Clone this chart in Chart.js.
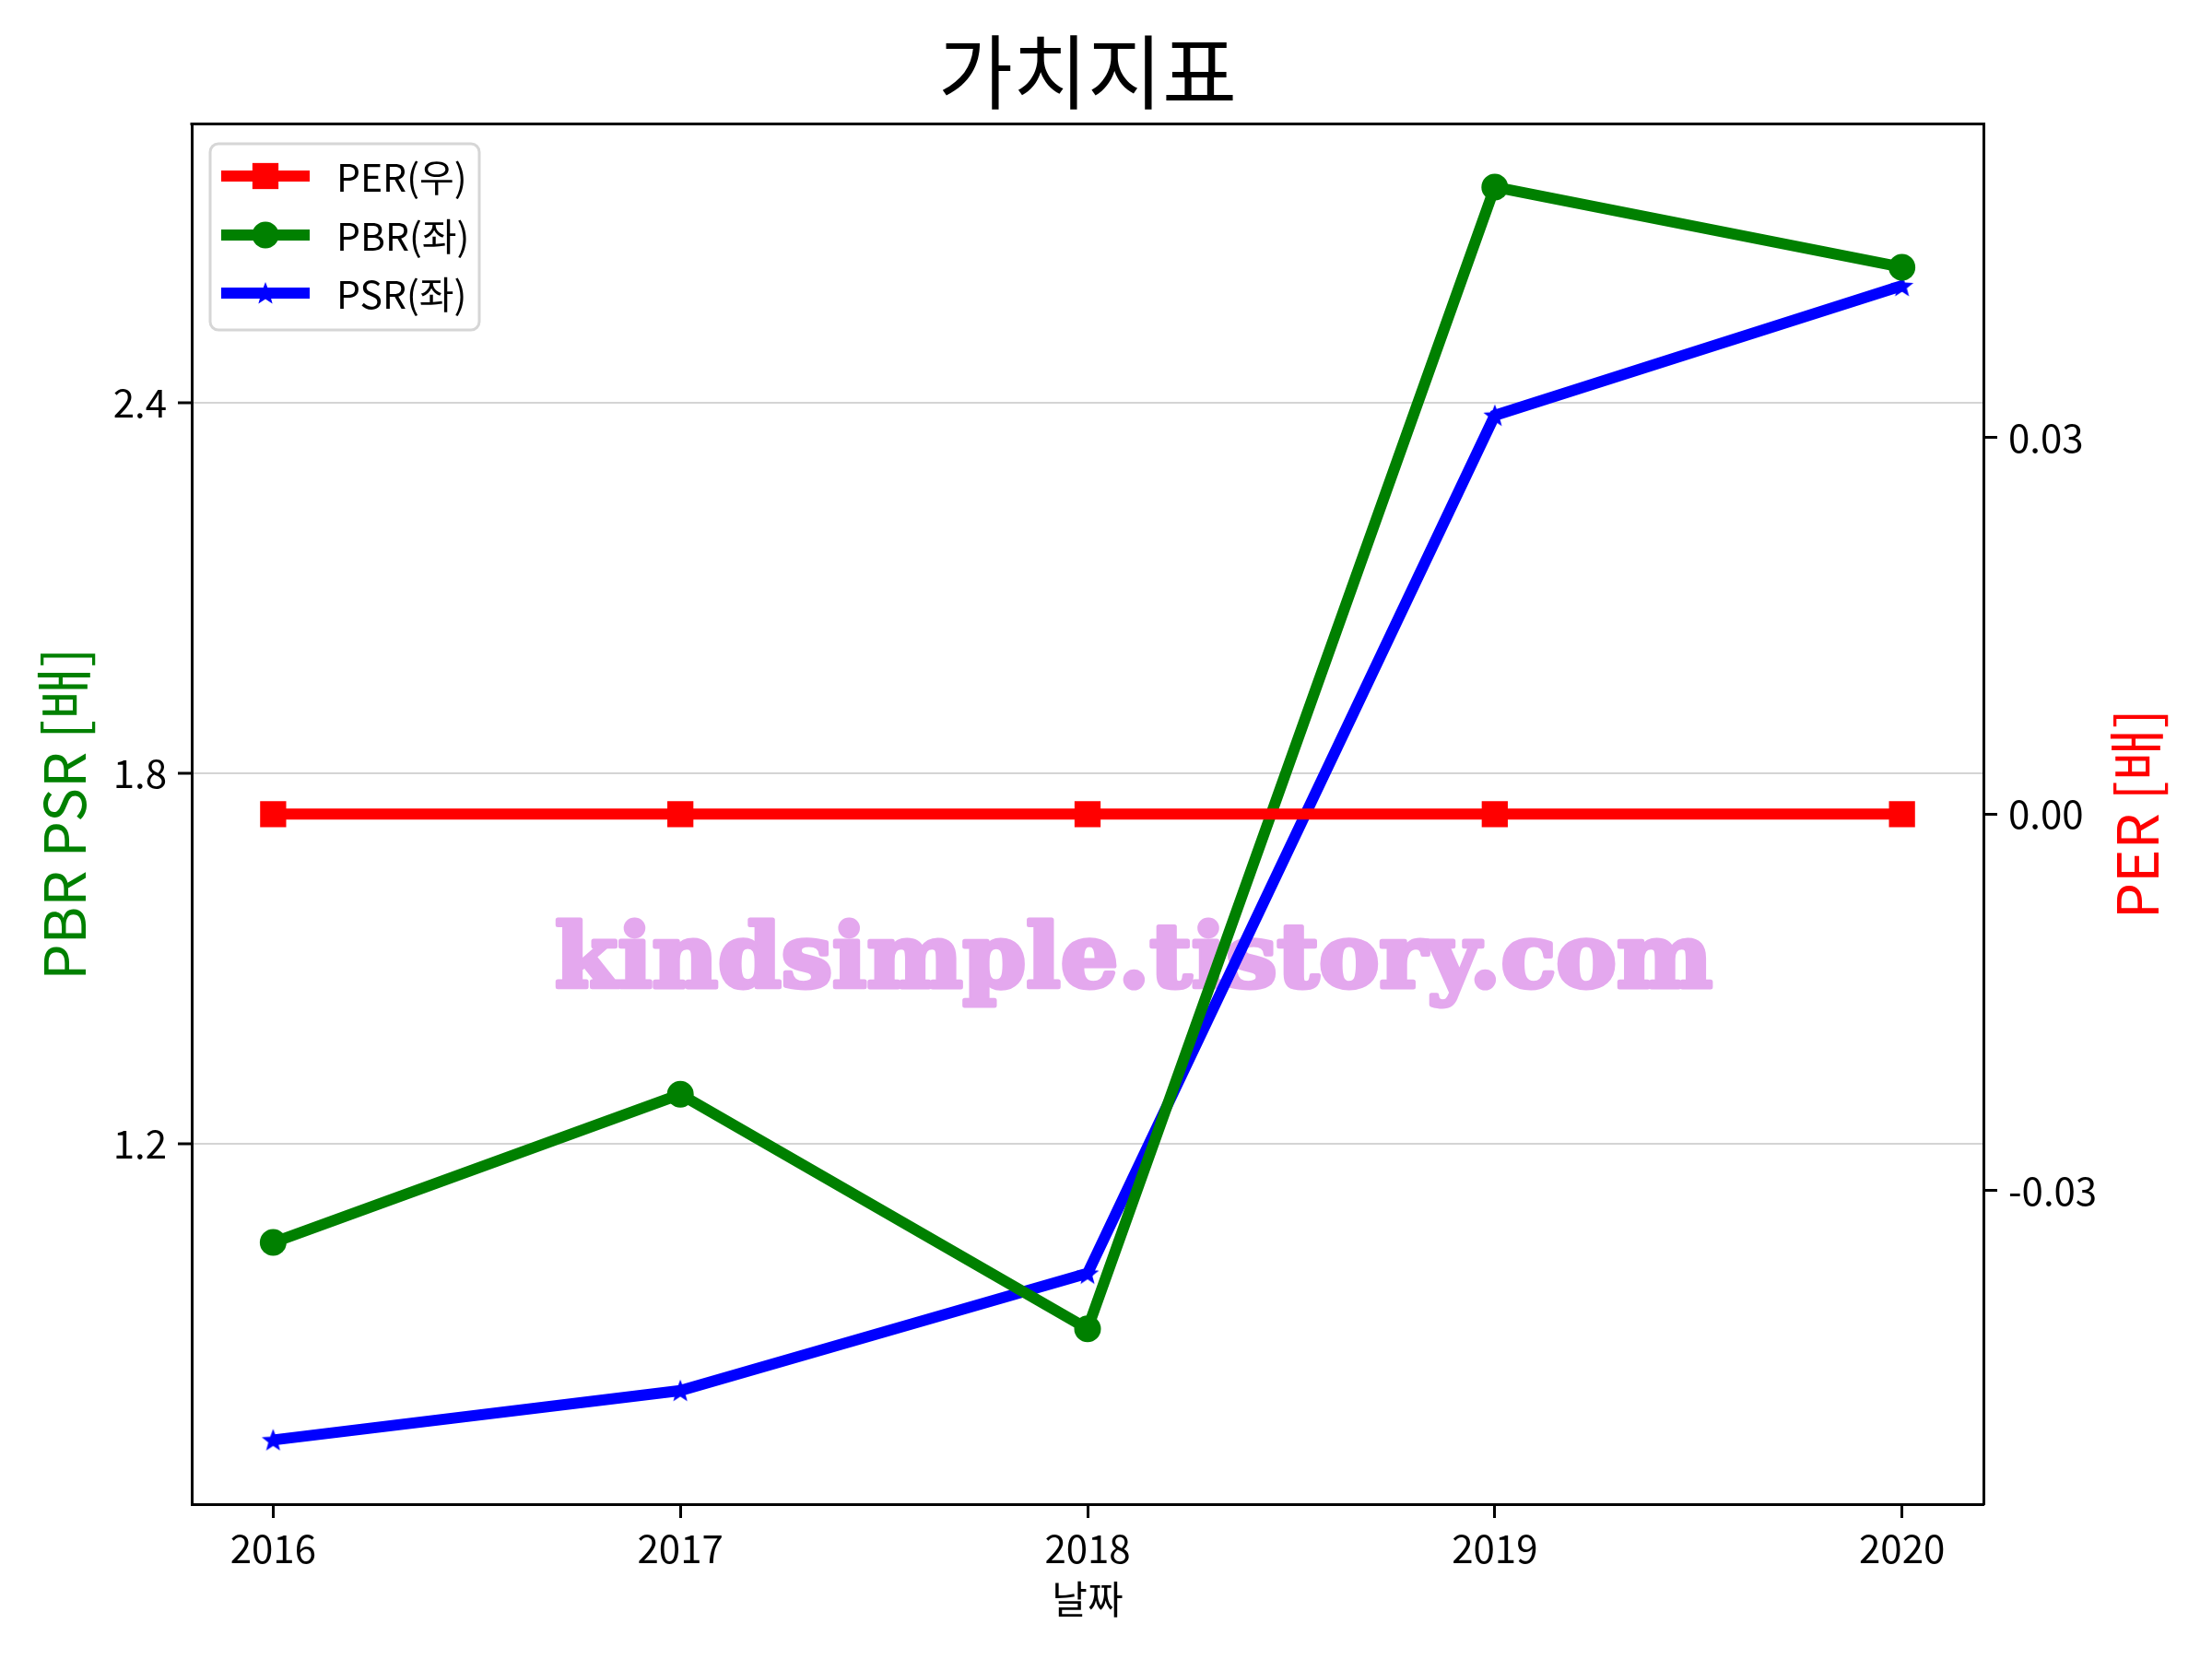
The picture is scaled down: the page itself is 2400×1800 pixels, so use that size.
<!DOCTYPE html>
<html>
<head>
    <meta charset="utf-8" />
    <title>가치지표</title>
    <script src="https://cdn.jsdelivr.net/npm/chart.js@4/dist/chart.umd.min.js"></script>
    <style>
        body {
            margin: 0;
            background: #ffffff;
        }
        #wrap {
            width: 2400px;
            height: 1800px;
        }
    </style>
</head>
<body>
<div id="wrap">
    <canvas id="valueChart" width="2400" height="1800"></canvas>
</div>

<script>
    // data
    const years = [2016, 2017, 2018, 2019, 2020];
    const perValues = [0, 0, 0, 0, 0];
    const pbrValues = [1.04, 1.28, 0.90, 2.75, 2.62];
    const psrValues = [0.72, 0.80, 0.99, 2.38, 2.59];
    const leftTicks = [1.2, 1.8, 2.4];
    const rightTicks = [-0.03, 0.00, 0.03];

    const FONT = "'Noto Sans CJK KR', 'Noto Sans', sans-serif";

    // filled five point star, like matplotlib's '*'
    function starImage(size, color) {
        const c = document.createElement('canvas');
        c.width = size;
        c.height = size;
        const g = c.getContext('2d');
        const r = size / 2, ri = r * 0.42;
        g.beginPath();
        for (let i = 0; i < 10; i++) {
            const a = -Math.PI / 2 + i * Math.PI / 5;
            const rr = i % 2 ? ri : r;
            g.lineTo(r + rr * Math.cos(a), r * 1.08 + rr * Math.sin(a));
        }
        g.closePath();
        g.fillStyle = color;
        g.fill();
        return c;
    }
    const blueStar = starImage(26, '#0000ff');

    function toPoints(vals) {
        return years.map((y, i) => ({ x: y, y: vals[i] }));
    }

    const watermark = {
        id: 'watermark',
        beforeDatasetsDraw(chart) {
            const ctx = chart.ctx;
            const text = 'kindsimple.tistory.com';
            ctx.save();
            ctx.font = "bold 96px 'DejaVu Serif', serif";
            const w = ctx.measureText(text).width;
            ctx.translate(1230, 1071);
            ctx.scale(1256 / w, 1);
            ctx.fillStyle = '#e4a8ee';
            ctx.strokeStyle = '#e4a8ee';
            ctx.lineWidth = 5;
            ctx.lineJoin = 'round';
            ctx.textAlign = 'center';
            ctx.textBaseline = 'alphabetic';
            ctx.strokeText(text, 0, 0);
            ctx.fillText(text, 0, 0);
            ctx.restore();
        }
    };

    const frameAndLegend = {
        id: 'frameAndLegend',
        afterDraw(chart) {
            const ctx = chart.ctx;
            const a = chart.chartArea;
            ctx.save();
            // top spine
            ctx.strokeStyle = '#000000';
            ctx.lineWidth = 3;
            ctx.beginPath();
            ctx.moveTo(a.left - 1.5, a.top);
            ctx.lineTo(a.right + 1.5, a.top);
            ctx.stroke();

            // right axis title, reads bottom to top
            ctx.translate(2318, (a.top + a.bottom) / 2);
            ctx.rotate(-Math.PI / 2);
            ctx.font = '62px ' + FONT;
            ctx.fillStyle = '#ff0000';
            ctx.textAlign = 'center';
            ctx.textBaseline = 'middle';
            ctx.fillText('PER [배]', 0, 0);
            ctx.restore();

            // legend box
            ctx.save();
            ctx.beginPath();
            ctx.roundRect(228, 156, 292, 202, 9);
            ctx.fillStyle = 'rgba(255,255,255,0.8)';
            ctx.fill();
            ctx.strokeStyle = '#d6d6d6';
            ctx.lineWidth = 3;
            ctx.stroke();

            const rows = [191, 255, 318];
            chart.data.datasets.forEach((ds, i) => {
                const y = rows[i];
                ctx.strokeStyle = ds.borderColor;
                ctx.lineWidth = ds.borderWidth;
                ctx.beginPath();
                ctx.moveTo(240, y);
                ctx.lineTo(336, y);
                ctx.stroke();
                ctx.fillStyle = ds.borderColor;
                if (ds.pointStyle === 'rect') {
                    const s = ds.pointRadius * Math.SQRT1_2;
                    ctx.fillRect(288 - s, y - s, 2 * s, 2 * s);
                } else if (ds.pointStyle === 'circle') {
                    ctx.beginPath();
                    ctx.arc(288, y, ds.pointRadius, 0, Math.PI * 2);
                    ctx.fill();
                } else {
                    ctx.drawImage(ds.pointStyle, 288 - 13, y - 13);
                }
                ctx.font = '41px ' + FONT;
                ctx.fillStyle = '#000000';
                ctx.textAlign = 'left';
                ctx.textBaseline = 'middle';
                ctx.fillText(ds.label, 365, y + 1);
            });
            ctx.restore();
        }
    };

    const ctx = document.getElementById('valueChart').getContext('2d');
    const valueChart = new Chart(ctx, {
        type: 'line',
        data: {
            datasets: [{
                label: 'PER(우)',
                data: toPoints(perValues),
                yAxisID: 'y1',
                borderColor: '#ff0000',
                backgroundColor: '#ff0000',
                borderWidth: 12,
                pointStyle: 'rect',
                pointRadius: 20,
                pointBorderWidth: 0,
                tension: 0
            }, {
                label: 'PBR(좌)',
                data: toPoints(pbrValues),
                yAxisID: 'y',
                borderColor: '#008000',
                backgroundColor: '#008000',
                borderWidth: 12,
                pointStyle: 'circle',
                pointRadius: 14.5,
                pointBorderWidth: 0,
                tension: 0
            }, {
                label: 'PSR(좌)',
                data: toPoints(psrValues),
                yAxisID: 'y',
                borderColor: '#0000ff',
                backgroundColor: '#0000ff',
                borderWidth: 12,
                pointStyle: blueStar,
                pointRadius: 13,
                pointBorderWidth: 0,
                tension: 0
            }]
        },
        options: {
            responsive: false,
            animation: false,
            devicePixelRatio: 1,
            // right padding keeps the title centred over the axes
            layout: { padding: { right: 40 } },
            font: { family: FONT },
            plugins: {
                legend: { display: false },
                tooltip: { enabled: false },
                title: {
                    display: true,
                    text: '가치지표',
                    color: '#000000',
                    font: { family: FONT, size: 88, weight: 'normal' },
                    padding: { top: 25, bottom: 4 }
                }
            },
            scales: {
                x: {
                    type: 'linear',
                    min: 2015.8,
                    max: 2020.2,
                    afterFit(scale) { scale.height = 168; },
                    afterBuildTicks(scale) { scale.ticks = years.map(v => ({ value: v })); },
                    ticks: {
                        color: '#000000',
                        font: { family: FONT, size: 42 },
                        padding: 8,
                        maxRotation: 0,
                        callback: v => String(v)
                    },
                    grid: {
                        drawOnChartArea: false,
                        tickLength: 15,
                        tickColor: '#000000',
                        tickWidth: 3
                    },
                    border: { color: '#000000', width: 3 },
                    title: {
                        display: true,
                        text: '날짜',
                        color: '#000000',
                        font: { family: FONT, size: 42 },
                        padding: 40
                    }
                },
                y: {
                    position: 'left',
                    min: 0.616,
                    max: 2.852,
                    afterFit(scale) { scale.width = 208; },
                    afterBuildTicks(scale) { scale.ticks = leftTicks.map(v => ({ value: v })); },
                    ticks: {
                        color: '#000000',
                        font: { family: FONT, size: 42 },
                        padding: 12,
                        callback: v => v.toFixed(1)
                    },
                    grid: {
                        color: 'rgba(0,0,0,0.17)',
                        lineWidth: 2,
                        tickLength: 15,
                        tickColor: '#000000',
                        tickWidth: 3
                    },
                    border: { color: '#000000', width: 3 },
                    title: {
                        display: true,
                        text: 'PBR PSR [배]',
                        color: '#008000',
                        font: { family: FONT, size: 62 },
                        padding: 32
                    }
                },
                y1: {
                    position: 'right',
                    min: -0.055,
                    max: 0.055,
                    afterFit(scale) { scale.width = 208; },
                    afterBuildTicks(scale) { scale.ticks = rightTicks.map(v => ({ value: v })); },
                    ticks: {
                        color: '#000000',
                        font: { family: FONT, size: 42 },
                        padding: 12,
                        callback: v => v.toFixed(2)
                    },
                    grid: {
                        drawOnChartArea: false,
                        tickLength: 15,
                        tickColor: '#000000',
                        tickWidth: 3
                    },
                    border: { color: '#000000', width: 3 }
                }
            }
        },
        plugins: [watermark, frameAndLegend]
    });
</script>
</body>
</html>
